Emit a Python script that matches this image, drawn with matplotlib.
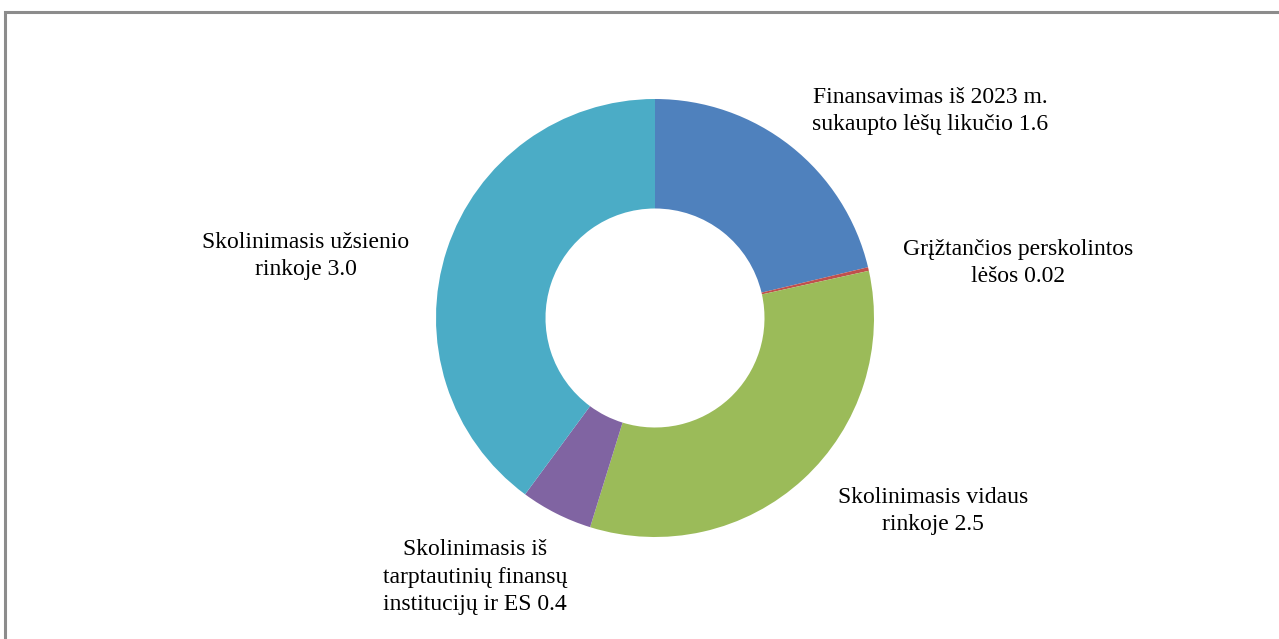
import matplotlib
matplotlib.use("Agg")
import matplotlib.pyplot as plt
from matplotlib.patches import Rectangle

labels = ["Finansavimas iš 2023 m.\nsukaupto lėšų likučio 1.6",
          "Grįžtančios perskolintos\nlėšos 0.02",
          "Skolinimasis vidaus\nrinkoje 2.5",
          "Skolinimasis iš\ntarptautinių finansų\ninstitucijų ir ES 0.4",
          "Skolinimasis užsienio\nrinkoje 3.0"]
values = [1.6, 0.02, 2.5, 0.4, 3.0]
colors = ["#4F81BD", "#C0504D", "#9BBB59", "#8064A2", "#4BACC6"]
# label centres in pixel coords (x, y from top)
label_pos = [(930, 111), (1018, 263), (933, 511), (475, 577), (306, 256)]

W, H = 1279, 639
fig = plt.figure(figsize=(W / 100, H / 100), dpi=100)
plt.rcParams['font.family'] = ['Liberation Serif', 'DejaVu Serif']

# border
fig.patches.append(Rectangle((5.5 / W, -0.1), 1.2, (H - 11.5) / H + 0.1,
                             transform=fig.transFigure, fill=False,
                             edgecolor="#8C8C8C", linewidth=2.2))

cx, cy, r = 655, 318, 219
ax = fig.add_axes([(cx - r) / W, (H - cy - r) / H, 2 * r / W, 2 * r / H])
ax.pie(values, colors=colors, startangle=90, counterclock=False, radius=1,
       wedgeprops=dict(width=0.5, linewidth=0))
ax.set_xlim(-1, 1)
ax.set_ylim(-1, 1)
ax.set_aspect('equal')
ax.axis('off')

for lab, (px, py) in zip(labels, label_pos):
    fig.text(px / W, 1 - py / H, lab, ha='center', va='center',
             fontsize=17, color='black', linespacing=1.42)

fig.savefig("out.png", dpi=100)
